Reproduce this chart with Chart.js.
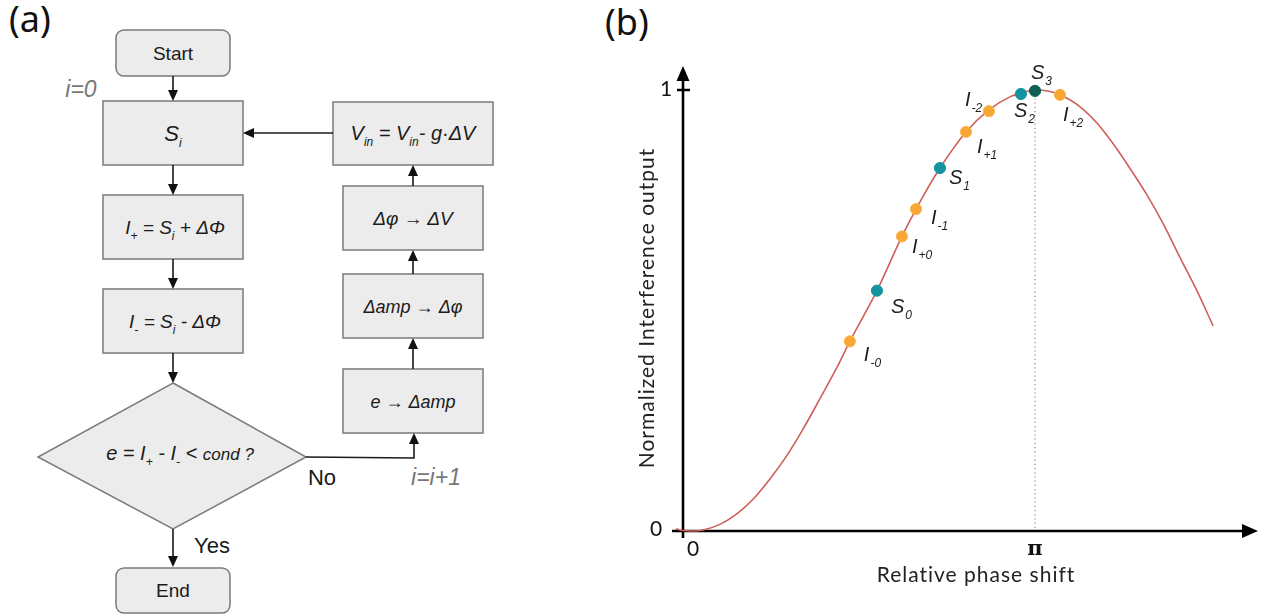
<!DOCTYPE html>
<html>
<head>
<meta charset="utf-8">
<script src="https://cdn.jsdelivr.net/npm/chart.js@4.4.1/dist/chart.umd.min.js"></script>
<style>
  html,body{margin:0;padding:0;background:#fff;}
  body{width:1262px;height:615px;position:relative;overflow:hidden;}
  .panel{position:absolute;font-family:"Noto Sans","Open Sans",sans-serif;font-size:36px;color:#111;line-height:1;}
  #chartWrap{position:absolute;left:600px;top:0;width:662px;height:615px;}
  svg text{font-family:"Liberation Sans",Arial,sans-serif;fill:#1a1a1a;}
</style>
</head>
<body>
<div class="panel" style="left:9px;top:1px;">(a)</div>
<div class="panel" style="left:605px;top:4px;">(b)</div>

<svg width="600" height="615" style="position:absolute;left:0;top:0" xmlns="http://www.w3.org/2000/svg">
  <g fill="#ececec" stroke="#7a7a7a" stroke-width="1.5">
    <rect x="116" y="30" width="114" height="46" rx="8"/>
    <rect x="103" y="101" width="140" height="64"/>
    <rect x="103" y="195" width="140" height="64"/>
    <rect x="103" y="289" width="140" height="64"/>
    <polygon points="173,383 306,457 173,529 38,457"/>
    <rect x="333" y="102" width="160" height="63"/>
    <rect x="343" y="186" width="140" height="64"/>
    <rect x="343" y="274" width="140" height="64"/>
    <rect x="343" y="369" width="140" height="64"/>
    <rect x="116" y="568" width="114" height="45" rx="8"/>
  </g>
  <g stroke="#1a1a1a" stroke-width="1.6" fill="none">
    <line x1="173" y1="76" x2="173" y2="92"/>
    <line x1="173" y1="165" x2="173" y2="186"/>
    <line x1="173" y1="259" x2="173" y2="280"/>
    <line x1="173" y1="353" x2="173" y2="374"/>
    <line x1="173" y1="529" x2="173" y2="558"/>
    <polyline points="306,457 414,458 414,442"/>
    <line x1="413" y1="369" x2="413" y2="347"/>
    <line x1="413" y1="274" x2="413" y2="259"/>
    <line x1="413" y1="186" x2="413" y2="174"/>
    <line x1="333" y1="133" x2="252" y2="133"/>
  </g>
  <g fill="#111" stroke="none">
    <polygon points="168,90 178,90 173,101"/>
    <polygon points="168,184 178,184 173,195"/>
    <polygon points="168,278 178,278 173,289"/>
    <polygon points="168,372 178,372 173,383"/>
    <polygon points="168,556 178,556 173,567"/>
    <polygon points="409,444 419,444 414,433"/>
    <polygon points="408,349 418,349 413,338"/>
    <polygon points="408,261 418,261 413,250"/>
    <polygon points="408,176 418,176 413,165"/>
    <polygon points="254,128 254,138 243,133"/>
  </g>
  <text x="173" y="60" text-anchor="middle" font-size="19">Start</text>
  <text x="173" y="597" text-anchor="middle" font-size="19">End</text>
  <text x="81" y="97" text-anchor="middle" font-size="23" font-style="italic" style="fill:#777">i=0</text>
  <text x="436" y="485" text-anchor="middle" font-size="23" font-style="italic" style="fill:#777">i=i+1</text>
  <text x="322" y="485" text-anchor="middle" font-size="22">No</text>
  <text x="212" y="553" text-anchor="middle" font-size="22">Yes</text>
  <text x="173" y="141" text-anchor="middle" font-size="22" font-style="italic">S<tspan dy="6" font-size="12">i</tspan></text>
  <text x="175" y="234" text-anchor="middle" font-size="19" font-style="italic">I<tspan dy="6" font-size="12">+</tspan><tspan dy="-6"> = S</tspan><tspan dy="6" font-size="12">i</tspan><tspan dy="-6"> + ΔΦ</tspan></text>
  <text x="175" y="328" text-anchor="middle" font-size="19" font-style="italic">I<tspan dy="6" font-size="12">-</tspan><tspan dy="-6"> = S</tspan><tspan dy="6" font-size="12">i</tspan><tspan dy="-6"> - ΔΦ</tspan></text>
  <text x="180" y="460" text-anchor="middle" font-size="20" font-style="italic">e = I<tspan dy="6" font-size="12">+</tspan><tspan dy="-6"> - I</tspan><tspan dy="6" font-size="12">-</tspan><tspan dy="-6"> &lt; </tspan><tspan font-size="17">cond ?</tspan></text>
  <text x="413" y="140" text-anchor="middle" font-size="20" font-style="italic">V<tspan dy="6" font-size="12">in</tspan><tspan dy="-6"> = V</tspan><tspan dy="6" font-size="12">in</tspan><tspan dy="-6">- g·ΔV</tspan></text>
  <text x="413" y="225" text-anchor="middle" font-size="19" font-style="italic">Δφ → ΔV</text>
  <text x="413" y="313" text-anchor="middle" font-size="18" font-style="italic">Δamp → Δφ</text>
  <text x="413" y="408" text-anchor="middle" font-size="18" font-style="italic">e → Δamp</text>
</svg>

<div id="chartWrap"><canvas id="c" width="662" height="615"></canvas></div>

<script>
// ---- data (x in units of π, y normalized output) ----
const curveX = [-0.02, 0, 0.028, 0.06, 0.105, 0.15, 0.199, 0.247, 0.295, 0.341, 0.389, 0.438, 0.474, 0.551, 0.622, 0.662, 0.730, 0.804, 0.869, 0.930, 0.960, 1.0, 1.04, 1.071, 1.128, 1.176, 1.222, 1.270, 1.318, 1.364, 1.412, 1.460, 1.506];
const curveY = [0.005, 0.001, 0, 0.003, 0.015, 0.037, 0.072, 0.118, 0.171, 0.231, 0.300, 0.372, 0.43, 0.545, 0.668, 0.73, 0.823, 0.905, 0.955, 0.985, 0.993, 1.0, 0.997, 0.989, 0.962, 0.925, 0.878, 0.822, 0.762, 0.697, 0.62, 0.545, 0.465];

const iNames = ["I-0", "I+0", "I-1", "I+1", "I-2", "I+2"];
const iX = [0.474, 0.622, 0.662, 0.804, 0.869, 1.071];
const iY = [0.43, 0.668, 0.73, 0.905, 0.952, 0.989];

const sNames = ["S0", "S1", "S2"];
const sX = [0.551, 0.730, 0.960];
const sY = [0.545, 0.823, 0.991];

const s3Name = ["S3"];
const s3X = [1.0];
const s3Y = [0.998];

const yTickValues = [0, 1];
const yTickLabels = ["0", "1"];
const xTickValues = [0, 1];
const xTickLabels = ["0", "π"];
const xTitle = "Relative phase shift";
const yTitle = "Normalized Interference output";

// ---- styling for labels (offsets in px from each point) ----
const labelStyle = {
  "I-0": {main: "I", sub: "-0", dx: 14, dy: 20},
  "I+0": {main: "I", sub: "+0", dx: 10, dy: 17},
  "I-1": {main: "I", sub: "-1", dx: 15, dy: 15},
  "I+1": {main: "I", sub: "+1", dx: 11, dy: 21},
  "I-2": {main: "I", sub: "-2", dx: -24, dy: -5},
  "I+2": {main: "I", sub: "+2", dx: 3, dy: 26},
  "S0": {main: "S", sub: "0", dx: 14, dy: 22},
  "S1": {main: "S", sub: "1", dx: 9, dy: 16},
  "S2": {main: "S", sub: "2", dx: -7, dy: 23},
  "S3": {main: "S", sub: "3", dx: -4, dy: -12}
};

const zip = (xs, ys) => xs.map((x, i) => ({x, y: ys[i]}));

const axesPlugin = {
  id: 'customAxes',
  beforeDatasetsDraw(chart) {
    const ctx = chart.ctx, xs = chart.scales.x, ys = chart.scales.y;
    const x0 = xs.getPixelForValue(0), y0 = ys.getPixelForValue(0);
    ctx.save();
    const xp = xs.getPixelForValue(xTickValues[1]);
    ctx.strokeStyle = '#8a8a8a';
    ctx.lineWidth = 1.2;
    ctx.setLineDash([1.2, 3]);
    ctx.beginPath();
    ctx.moveTo(xp, ys.getPixelForValue(1));
    ctx.lineTo(xp, y0);
    ctx.stroke();
    ctx.setLineDash([]);
    ctx.strokeStyle = '#000';
    ctx.fillStyle = '#000';
    ctx.lineWidth = 2.6;
    ctx.beginPath();
    ctx.moveTo(x0, y0 + 7);
    ctx.lineTo(x0, 78);
    ctx.moveTo(x0 - 11, y0);
    ctx.lineTo(1246 - 600, y0);
    const y1 = ys.getPixelForValue(yTickValues[1]);
    ctx.moveTo(x0 - 6, y1);
    ctx.lineTo(x0 + 7, y1);
    ctx.stroke();
    ctx.beginPath();
    ctx.moveTo(x0, 66); ctx.lineTo(x0 - 6.5, 81); ctx.lineTo(x0 + 6.5, 81); ctx.closePath(); ctx.fill();
    ctx.beginPath();
    ctx.moveTo(1258 - 600, y0); ctx.lineTo(1242 - 600, y0 - 7); ctx.lineTo(1242 - 600, y0 + 7); ctx.closePath(); ctx.fill();
    ctx.font = '21px Lato, "Noto Sans", sans-serif';
    ctx.textAlign = 'center';
    ctx.textBaseline = 'middle';
    ctx.fillStyle = '#111';
    ctx.fillText(yTickLabels[0], x0 - 27, ys.getPixelForValue(yTickValues[0]) - 2);
    ctx.fillText(yTickLabels[1], x0 - 17, y1 - 1);
    ctx.fillText(xTickLabels[0], xs.getPixelForValue(xTickValues[0]) + 10, y0 + 18);
    ctx.font = 'bold 21px "DejaVu Serif", serif';
    ctx.fillText(xTickLabels[1], xs.getPixelForValue(xTickValues[1]), y0 + 19);
    ctx.font = '21px Lato, "Noto Sans", sans-serif';
    ctx.fillStyle = '#222';
    try { ctx.letterSpacing = '1px'; } catch (e) {}
    ctx.fillText(xTitle, 976 - 600, 575);
    ctx.save();
    ctx.translate(647 - 600, 308);
    ctx.rotate(-Math.PI / 2);
    ctx.fillText(yTitle, 0, 0);
    ctx.restore();
    try { ctx.letterSpacing = '0px'; } catch (e) {}
    ctx.restore();
  },
  afterDatasetsDraw(chart) {
    const ctx = chart.ctx;
    ctx.save();
    ctx.fillStyle = '#1e1e1e';
    ctx.textBaseline = 'alphabetic';
    ctx.textAlign = 'left';
    chart.data.datasets.forEach((ds, di) => {
      if (!ds.names) return;
      const meta = chart.getDatasetMeta(di);
      ds.names.forEach((n, i) => {
        const el = meta.data[i];
        const st = labelStyle[n];
        const bx = el.x + st.dx, by = el.y + st.dy;
        ctx.font = 'italic 20px "Liberation Sans", Arial, sans-serif';
        ctx.fillText(st.main, bx, by);
        const w = ctx.measureText(st.main).width;
        ctx.font = 'italic 12px "Liberation Sans", Arial, sans-serif';
        ctx.fillText(st.sub, bx + w + 1, by + 6);
      });
    });
    ctx.restore();
  }
};

new Chart(document.getElementById('c'), {
  type: 'scatter',
  data: {
    datasets: [
      {
        label: 'curve',
        data: zip(curveX, curveY),
        showLine: true,
        borderColor: '#cf5f58',
        borderWidth: 1.6,
        pointRadius: 0,
        cubicInterpolationMode: 'monotone',
        order: 5
      },
      {
        label: 'I',
        names: iNames,
        data: zip(iX, iY),
        backgroundColor: '#f8a735',
        borderColor: '#fbb44c',
        borderWidth: 1,
        pointRadius: 5.6,
        order: 1
      },
      {
        label: 'S',
        names: sNames,
        data: zip(sX, sY),
        backgroundColor: '#13949f',
        borderColor: '#13949f',
        borderWidth: 1,
        pointRadius: 5.6,
        order: 1
      },
      {
        label: 'S3',
        names: s3Name,
        data: zip(s3X, s3Y),
        backgroundColor: '#0f5e52',
        borderColor: '#0f5e52',
        borderWidth: 1,
        pointRadius: 5.6,
        order: 1
      }
    ]
  },
  options: {
    responsive: false,
    animation: false,
    events: [],
    layout: {padding: {left: 65.4, right: 15.8, top: 67.95, bottom: 61.95}},
    plugins: {legend: {display: false}, tooltip: {enabled: false}},
    scales: {
      x: {type: 'linear', min: -0.05, max: 1.6, display: false},
      y: {type: 'linear', min: -0.05, max: 1.05, display: false}
    }
  },
  plugins: [axesPlugin]
});
</script>
</body>
</html>
